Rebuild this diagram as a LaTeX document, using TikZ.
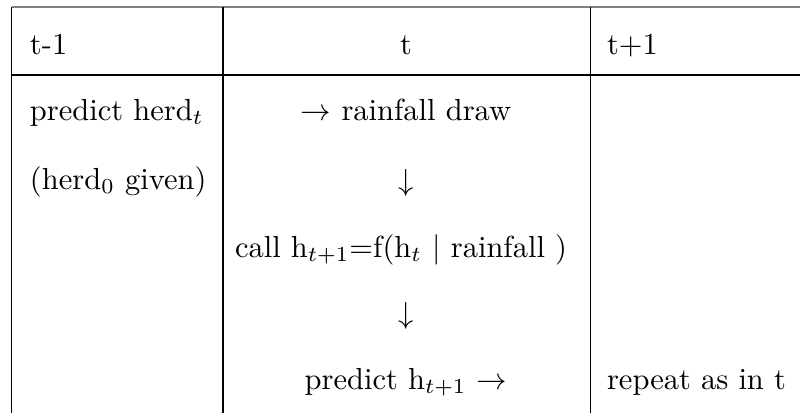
\documentclass[tikz,border=0pt]{standalone}
\begin{document}
\begin{tikzpicture}[x=0.328pt,y=-0.328pt,
  cell/.style={inner sep=0pt,outer sep=0pt,font=\fontsize{10pt}{12pt}\selectfont},
  lcell/.style={cell,anchor=base west},
  ccell/.style={cell,anchor=base},
  rule/.style={line width=0.4pt,black},
  toprule/.style={line width=0.7pt,black!50}]
\useasboundingbox (0,0) rectangle (800,413);
% grid coordinates
\coordinate (tl) at (11.5,7);
\coordinate (tr) at (800,7);
\coordinate (hl) at (11.5,75);
\coordinate (hr) at (800,75);
\coordinate (v1t) at (11.5,7);   \coordinate (v1b) at (11.5,413);
\coordinate (v2t) at (223,7);    \coordinate (v2b) at (223,413);
\coordinate (v3t) at (590.5,7);  \coordinate (v3b) at (590.5,413);
\draw[toprule] (tl) -- (tr);
\draw[line width=0.5pt] (hl) -- (hr);
\draw[rule] (v1t) -- (v1b);
\draw[rule] (v2t) -- (v2b);
\draw[rule] (v3t) -- (v3b);
% header
\node[lcell] (h1) at (30,54) {t-1};
\node[ccell] (h2) at (406,54) {t};
\node[lcell] (h3) at (607,54) {t+1};
% column 1
\node[lcell] (a1) at (30,120) {predict herd$_t$};
\node[lcell] (a2) at (30,189) {(herd$_0$ given)};
% column 2
\node[ccell] (b1) at (406,120) {$\rightarrow$ rainfall draw};
\node[ccell] (b2) at (406,190) {$\downarrow$};
\node[ccell] (b3) at (401,257) {call h$_{t+1}$=f(h$_t$ $|$ rainfall )};
\node[ccell] (b4) at (406,323) {$\downarrow$};
\node[ccell] (b5) at (406,389) {predict h$_{t+1}$ $\rightarrow$};
% column 3
\node[lcell] (c5) at (607,389) {repeat as in t};
\end{tikzpicture}
\end{document}
